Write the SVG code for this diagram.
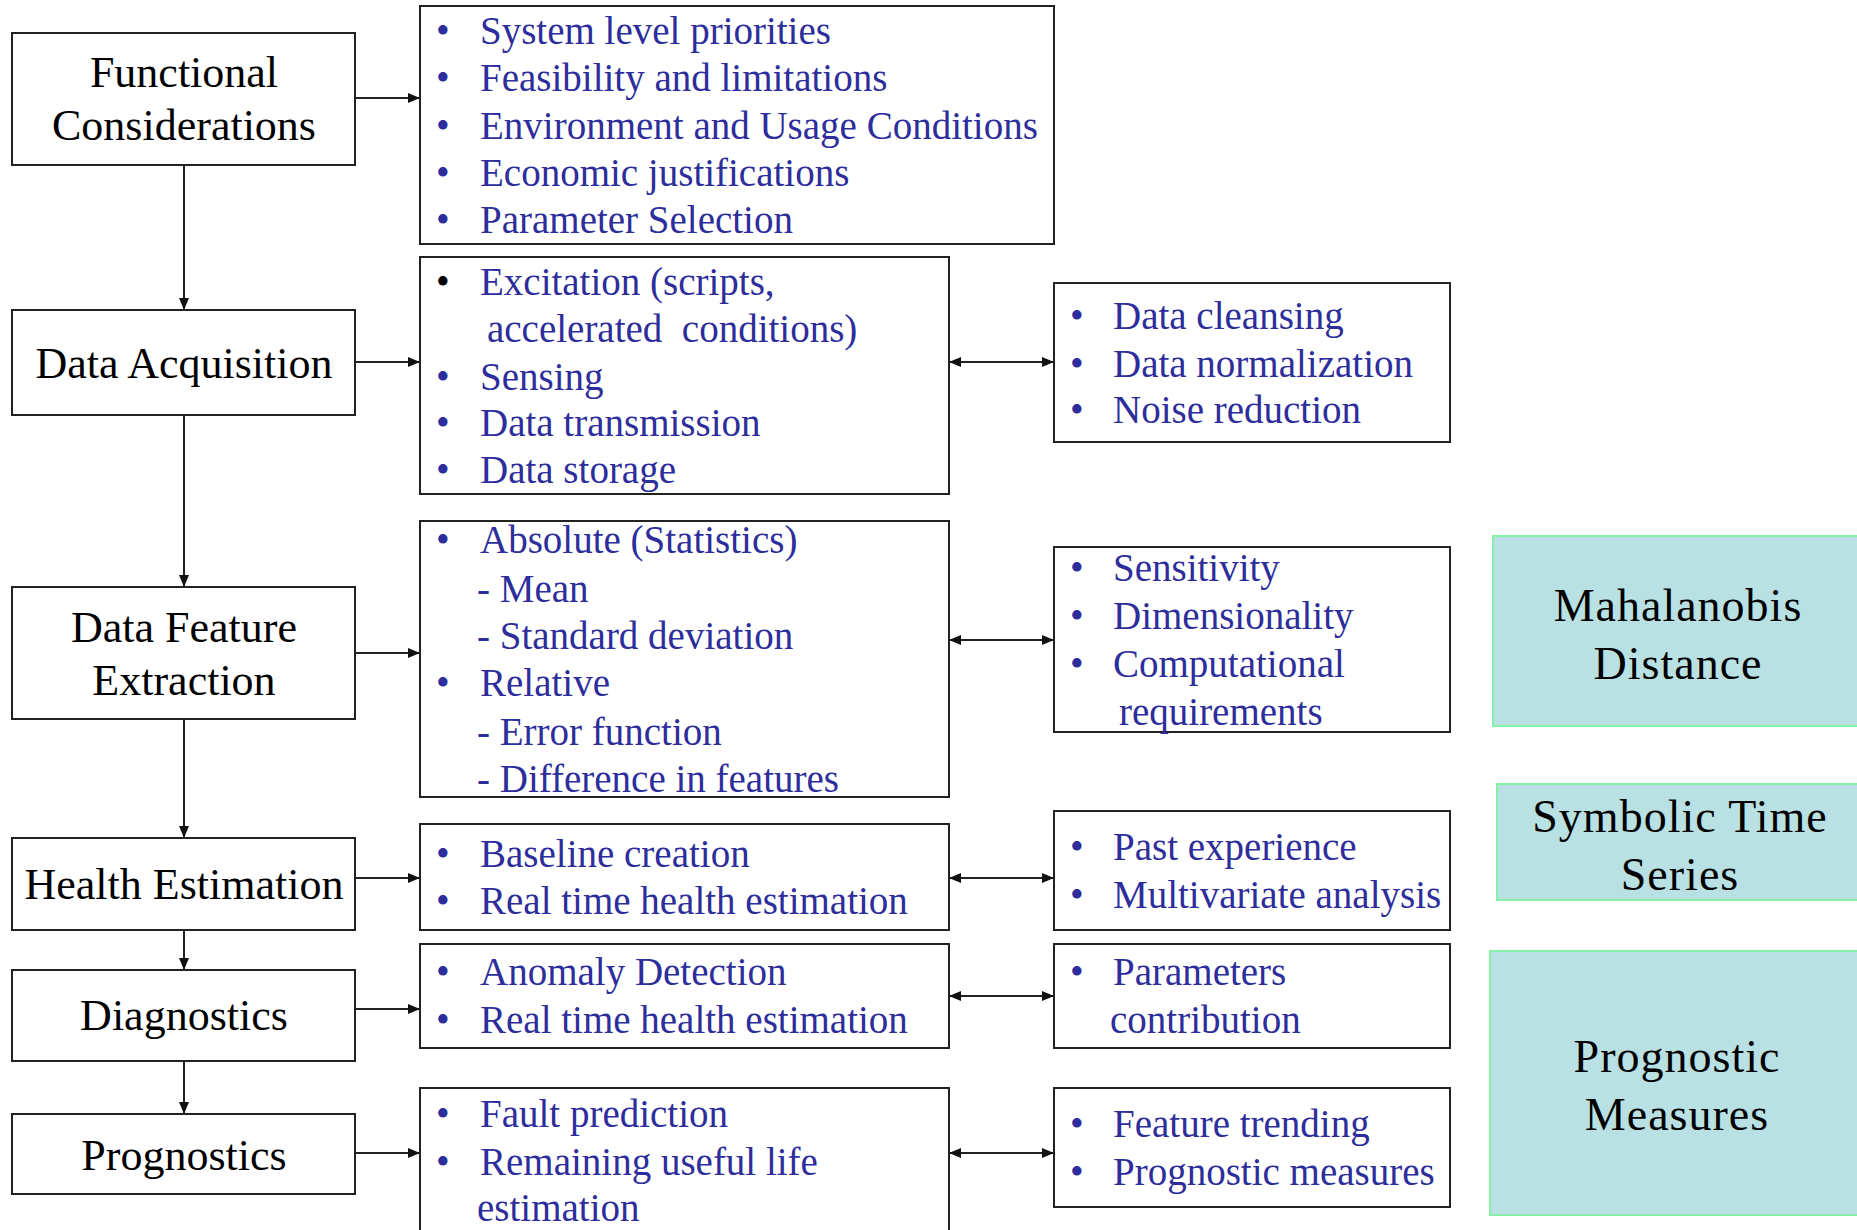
<svg xmlns="http://www.w3.org/2000/svg" width="1857" height="1230" viewBox="0 0 1857 1230" font-family="'Liberation Serif', 'Times New Roman', Times, 'DejaVu Serif', serif">
<defs>
<style>
text{font-family:'Liberation Serif','Times New Roman',Times,'DejaVu Serif',serif}
.box{fill:#fff;stroke:#222;stroke-width:2}
.teal{fill:#B9E0E2;stroke:#86F0A8;stroke-width:2}
.lt{font-size:44px;fill:#000;text-anchor:middle}
.it{font-size:39px;fill:#2D2D9B}
.bk{fill:#000}
.tt{font-size:46px;fill:#000;text-anchor:middle;letter-spacing:1px}
.con{stroke:#222;stroke-width:2;fill:none}
</style>
<marker id="ah" markerWidth="12" markerHeight="10" refX="12" refY="5" orient="auto" markerUnits="userSpaceOnUse">
<path d="M0,0 L12,5 L0,10 Z" fill="#111"/>
</marker>
<marker id="as" markerWidth="12" markerHeight="10" refX="0" refY="5" orient="auto" markerUnits="userSpaceOnUse">
<path d="M12,0 L0,5 L12,10 Z" fill="#111"/>
</marker>
</defs>
<rect width="1857" height="1230" fill="#fff"/>

<g id="connectors">
<line class="con" x1="184" y1="165" x2="184" y2="310" marker-end="url(#ah)"/>
<line class="con" x1="184" y1="415" x2="184" y2="587" marker-end="url(#ah)"/>
<line class="con" x1="184" y1="719" x2="184" y2="838" marker-end="url(#ah)"/>
<line class="con" x1="184" y1="930" x2="184" y2="970" marker-end="url(#ah)"/>
<line class="con" x1="184" y1="1061" x2="184" y2="1114" marker-end="url(#ah)"/>
<line class="con" x1="355" y1="98" x2="420" y2="98" marker-end="url(#ah)"/>
<line class="con" x1="355" y1="362" x2="420" y2="362" marker-end="url(#ah)"/>
<line class="con" x1="355" y1="653" x2="420" y2="653" marker-end="url(#ah)"/>
<line class="con" x1="355" y1="878" x2="420" y2="878" marker-end="url(#ah)"/>
<line class="con" x1="355" y1="1009" x2="420" y2="1009" marker-end="url(#ah)"/>
<line class="con" x1="355" y1="1153" x2="420" y2="1153" marker-end="url(#ah)"/>
<line class="con" x1="949" y1="362" x2="1054" y2="362" marker-start="url(#as)" marker-end="url(#ah)"/>
<line class="con" x1="949" y1="640" x2="1054" y2="640" marker-start="url(#as)" marker-end="url(#ah)"/>
<line class="con" x1="949" y1="878" x2="1054" y2="878" marker-start="url(#as)" marker-end="url(#ah)"/>
<line class="con" x1="949" y1="996" x2="1054" y2="996" marker-start="url(#as)" marker-end="url(#ah)"/>
<line class="con" x1="949" y1="1153" x2="1054" y2="1153" marker-start="url(#as)" marker-end="url(#ah)"/>
</g>

<g id="functional-considerations">
<rect class="box" x="12" y="33" width="343" height="132"/>
<text class="lt" x="184" y="87">Functional</text>
<text class="lt" x="184" y="140">Considerations</text>
</g>
<g id="data-acquisition">
<rect class="box" x="12" y="310" width="343" height="105"/>
<text class="lt" x="184" y="378">Data Acquisition</text>
</g>
<g id="data-feature-extraction">
<rect class="box" x="12" y="587" width="343" height="132"/>
<text class="lt" x="184" y="642">Data Feature</text>
<text class="lt" x="184" y="695">Extraction</text>
</g>
<g id="health-estimation">
<rect class="box" x="12" y="838" width="343" height="92"/>
<text class="lt" x="184" y="899">Health Estimation</text>
</g>
<g id="diagnostics">
<rect class="box" x="12" y="970" width="343" height="91"/>
<text class="lt" x="184" y="1030">Diagnostics</text>
</g>
<g id="prognostics">
<rect class="box" x="12" y="1114" width="343" height="80"/>
<text class="lt" x="184" y="1170">Prognostics</text>
</g>

<g id="fc-details">
<rect class="box" x="420" y="6" width="634" height="238"/>
<text class="it" x="436" y="44">•</text><text class="it" x="480" y="44">System level priorities</text>
<text class="it" x="436" y="91">•</text><text class="it" x="480" y="91">Feasibility and limitations</text>
<text class="it" x="436" y="139">•</text><text class="it" x="480" y="139">Environment and Usage Conditions</text>
<text class="it" x="436" y="186">•</text><text class="it" x="480" y="186">Economic justifications</text>
<text class="it" x="436" y="233">•</text><text class="it" x="480" y="233">Parameter Selection</text>
</g>
<g id="da-details">
<rect class="box" x="420" y="257" width="529" height="237"/>
<text class="it bk" x="436" y="295">•</text><text class="it" x="480" y="295">Excitation (scripts,</text>
<text class="it" x="487" y="342">accelerated&#160; conditions)</text>
<text class="it" x="436" y="390">•</text><text class="it" x="480" y="390">Sensing</text>
<text class="it" x="436" y="436">•</text><text class="it" x="480" y="436">Data transmission</text>
<text class="it" x="436" y="483">•</text><text class="it" x="480" y="483">Data storage</text>
</g>
<g id="dfe-details">
<rect class="box" x="420" y="521" width="529" height="276"/>
<text class="it" x="436" y="553">•</text><text class="it" x="480" y="553">Absolute (Statistics)</text>
<text class="it" x="477" y="602">- Mean</text>
<text class="it" x="477" y="649">- Standard deviation</text>
<text class="it" x="436" y="696">•</text><text class="it" x="480" y="696">Relative</text>
<text class="it" x="477" y="745">- Error function</text>
<text class="it" x="477" y="792">- Difference in features</text>
</g>
<g id="he-details">
<rect class="box" x="420" y="824" width="529" height="106"/>
<text class="it" x="436" y="867">•</text><text class="it" x="480" y="867">Baseline creation</text>
<text class="it" x="436" y="914">•</text><text class="it" x="480" y="914">Real time health estimation</text>
</g>
<g id="diag-details">
<rect class="box" x="420" y="944" width="529" height="104"/>
<text class="it" x="436" y="985">•</text><text class="it" x="480" y="985">Anomaly Detection</text>
<text class="it" x="436" y="1033">•</text><text class="it" x="480" y="1033">Real time health estimation</text>
</g>
<g id="prog-details">
<rect class="box" x="420" y="1088" width="529" height="160"/>
<text class="it" x="436" y="1127">•</text><text class="it" x="480" y="1127">Fault prediction</text>
<text class="it" x="436" y="1175">•</text><text class="it" x="480" y="1175">Remaining useful life</text>
<text class="it" x="477" y="1221">estimation</text>
</g>

<g id="da-processing">
<rect class="box" x="1054" y="283" width="396" height="159"/>
<text class="it" x="1070" y="329">•</text><text class="it" x="1113" y="329">Data cleansing</text>
<text class="it" x="1070" y="377">•</text><text class="it" x="1113" y="377">Data normalization</text>
<text class="it" x="1070" y="423">•</text><text class="it" x="1113" y="423">Noise reduction</text>
</g>
<g id="dfe-criteria">
<rect class="box" x="1054" y="547" width="396" height="185"/>
<text class="it" x="1070" y="581">•</text><text class="it" x="1113" y="581">Sensitivity</text>
<text class="it" x="1070" y="629">•</text><text class="it" x="1113" y="629">Dimensionality</text>
<text class="it" x="1070" y="677">•</text><text class="it" x="1113" y="677">Computational</text>
<text class="it" x="1119" y="725">requirements</text>
</g>
<g id="he-methods">
<rect class="box" x="1054" y="811" width="396" height="119"/>
<text class="it" x="1070" y="860">•</text><text class="it" x="1113" y="860">Past experience</text>
<text class="it" x="1070" y="908">•</text><text class="it" x="1113" y="908">Multivariate analysis</text>
</g>
<g id="diag-methods">
<rect class="box" x="1054" y="944" width="396" height="104"/>
<text class="it" x="1070" y="985">•</text><text class="it" x="1113" y="985">Parameters</text>
<text class="it" x="1110" y="1033">contribution</text>
</g>
<g id="prog-methods">
<rect class="box" x="1054" y="1088" width="396" height="119"/>
<text class="it" x="1070" y="1137">•</text><text class="it" x="1113" y="1137">Feature trending</text>
<text class="it" x="1070" y="1185">•</text><text class="it" x="1113" y="1185">Prognostic measures</text>
</g>

<g id="mahalanobis-distance">
<rect class="teal" x="1493" y="536" width="370" height="190"/>
<text class="tt" x="1678" y="621">Mahalanobis</text>
<text class="tt" x="1678" y="679">Distance</text>
</g>
<g id="symbolic-time-series">
<rect class="teal" x="1497" y="784" width="370" height="116"/>
<text class="tt" x="1680" y="832">Symbolic Time</text>
<text class="tt" x="1680" y="890">Series</text>
</g>
<g id="prognostic-measures">
<rect class="teal" x="1490" y="951" width="377" height="264"/>
<text class="tt" x="1677" y="1072">Prognostic</text>
<text class="tt" x="1677" y="1130">Measures</text>
</g>
</svg>
